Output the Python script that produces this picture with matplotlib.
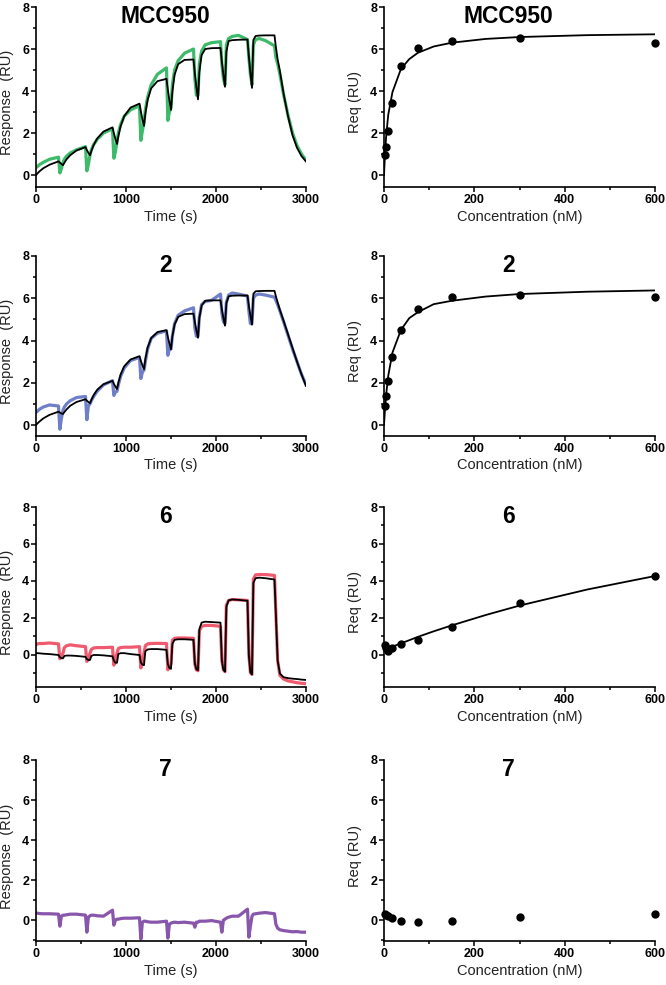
import matplotlib
matplotlib.use("Agg")
import matplotlib.pyplot as plt
from matplotlib.ticker import MultipleLocator

plt.rcParams['font.family'] = ['Liberation Sans', 'DejaVu Sans']

# ---- sensorgram data (time in s, response in RU) ----
t_sec = [0, 15, 40, 80, 150, 250, 265, 282,
         300, 315, 340, 380, 450, 550, 565, 582,
         600, 615, 640, 680, 750, 850, 865, 882,
         900, 915, 940, 980, 1050, 1150, 1165, 1182,
         1200, 1215, 1240, 1280, 1350, 1450, 1465, 1482,
         1500, 1515, 1540, 1580, 1650, 1750, 1765, 1782,
         1800, 1815, 1840, 1880, 1950, 2050, 2065, 2082,
         2100, 2115, 2140, 2180, 2250, 2350, 2365, 2382,
         2400, 2415, 2440, 2480, 2550, 2650,
         2665, 2685, 2710, 2750, 2800, 2850, 2900, 2950, 3000]

fit_mcc950 = [0.00, 0.07, 0.18, 0.32, 0.49, 0.65, 0.59, 0.53,
              0.47, 0.58, 0.75, 0.94, 1.17, 1.33, 1.19, 1.06,
              0.94, 1.14, 1.42, 1.74, 2.07, 2.27, 1.99, 1.73,
              1.48, 1.84, 2.32, 2.80, 3.21, 3.40, 3.03, 2.67,
              2.34, 2.92, 3.57, 4.13, 4.47, 4.58, 4.06, 3.56,
              3.10, 3.96, 4.78, 5.28, 5.48, 5.50, 4.84, 4.19,
              3.60, 4.90, 5.71, 6.00, 6.04, 6.05, 5.40, 4.77,
              4.20, 5.87, 6.38, 6.42, 6.44, 6.45, 5.65, 4.86,
              4.15, 6.43, 6.62, 6.64, 6.65, 6.65,
              6.10, 5.50, 4.95, 3.90, 2.80, 1.90, 1.30, 0.90, 0.65]
data_mcc950 = [0.35, 0.40, 0.50, 0.60, 0.75, 0.85, 0.10, 0.30,
               0.60, 0.75, 0.90, 1.05, 1.20, 1.35, 0.20, 0.50,
               0.95, 1.20, 1.45, 1.70, 2.00, 2.20, 0.80, 1.10,
               1.60, 2.00, 2.40, 2.80, 3.10, 3.30, 1.65, 2.10,
               2.50, 3.10, 3.70, 4.30, 4.80, 5.10, 2.60, 3.00,
               3.20, 4.30, 5.00, 5.45, 5.80, 6.00, 4.60, 3.80,
               3.80, 5.30, 5.90, 6.20, 6.30, 6.35, 5.30, 4.60,
               4.30, 6.20, 6.50, 6.60, 6.65, 6.45, 5.60, 4.80,
               4.30, 6.20, 6.45, 6.50, 6.40, 6.15,
               5.60, 5.30, 4.80, 3.85, 2.85, 2.00, 1.40, 1.00, 0.70]

fit_2 = [0.00, 0.07, 0.17, 0.31, 0.48, 0.63, 0.59, 0.55,
         0.52, 0.61, 0.74, 0.91, 1.09, 1.22, 1.15, 1.09,
         1.03, 1.19, 1.41, 1.67, 1.93, 2.09, 1.95, 1.82,
         1.70, 2.00, 2.39, 2.78, 3.10, 3.26, 3.04, 2.83,
         2.64, 3.12, 3.66, 4.12, 4.40, 4.49, 4.17, 3.86,
         3.58, 4.19, 4.76, 5.12, 5.25, 5.27, 4.87, 4.48,
         4.13, 5.07, 5.65, 5.88, 5.90, 5.90, 5.48, 5.07,
         4.70, 5.76, 6.09, 6.12, 6.13, 6.13, 5.65, 5.18,
         4.75, 6.21, 6.33, 6.34, 6.35, 6.35,
         6.10, 5.80, 5.45, 4.95, 4.30, 3.65, 3.00, 2.40, 1.85]
data_2 = [0.60, 0.65, 0.75, 0.85, 0.95, 0.90, -0.20, 0.30,
          0.70, 0.85, 1.00, 1.15, 1.30, 1.35, 0.25, 0.90,
          1.00, 1.15, 1.35, 1.60, 1.90, 2.10, 1.40, 1.55,
          1.60, 1.90, 2.30, 2.70, 3.05, 3.20, 2.20, 2.50,
          2.60, 3.00, 3.60, 4.10, 4.35, 4.45, 3.30, 3.60,
          3.60, 4.20, 4.80, 5.20, 5.40, 5.55, 4.60, 4.20,
          4.20, 5.10, 5.70, 5.85, 5.90, 6.20, 5.30, 4.90,
          4.80, 5.80, 6.15, 6.25, 6.20, 6.10, 5.40, 4.80,
          4.80, 6.00, 6.15, 6.20, 6.15, 6.05,
          5.90, 5.70, 5.40, 4.90, 4.25, 3.60, 3.00, 2.40, 1.90]

fit_6 = [0.10, 0.10, 0.09, 0.07, 0.05, 0.00, -0.12, -0.17,
         -0.18, -0.05, -0.03, -0.03, -0.05, -0.10, -0.22, -0.27,
         -0.27, -0.05, 0.00, 0.00, -0.02, -0.07, -0.30, -0.42,
         -0.42, 0.05, 0.10, 0.10, 0.05, 0.00, -0.40, -0.52,
         -0.55, 0.20, 0.30, 0.32, 0.32, 0.28, -0.50, -0.70,
         -0.75, 0.60, 0.82, 0.85, 0.85, 0.82, -0.45, -0.78,
         -0.82, 1.40, 1.75, 1.80, 1.78, 1.75, -0.30, -0.80,
         -0.90, 2.60, 2.95, 3.00, 2.98, 2.93, 0.00, -0.95,
         -1.05, 3.90, 4.15, 4.18, 4.15, 4.08,
         2.20, -0.30, -1.00, -1.20, -1.25, -1.28, -1.30, -1.33, -1.35]
data_6 = [0.55, 0.60, 0.62, 0.62, 0.65, 0.60, -0.20, -0.10,
          0.10, 0.40, 0.50, 0.55, 0.50, 0.45, -0.35, -0.20,
          0.10, 0.30, 0.38, 0.40, 0.40, 0.42, -0.55, -0.30,
          0.10, 0.35, 0.40, 0.42, 0.42, 0.45, -0.70, -0.40,
          0.10, 0.50, 0.60, 0.62, 0.63, 0.62, -0.80, -0.60,
          -0.50, 0.80, 0.90, 0.92, 0.92, 0.90, -0.50, -0.80,
          -0.85, 1.30, 1.55, 1.60, 1.60, 1.55, -0.30, -0.80,
          -0.90, 2.70, 2.95, 3.00, 2.98, 2.95, 0.00, -0.95,
          -1.05, 4.10, 4.33, 4.35, 4.35, 4.30,
          2.30, -0.30, -1.10, -1.30, -1.40, -1.45, -1.50, -1.53, -1.55]

data_7 = [0.35, 0.35, 0.33, 0.32, 0.32, 0.30, -0.30, 0.20,
          0.25, 0.25, 0.27, 0.30, 0.30, 0.25, -0.60, 0.15,
          0.22, 0.25, 0.25, 0.22, 0.20, 0.50, -0.25, 0.00,
          0.05, 0.05, 0.08, 0.10, 0.10, 0.12, -0.95, -0.10,
          -0.05, -0.05, -0.08, -0.10, -0.10, -0.05, -0.90, -0.20,
          -0.15, -0.12, -0.10, -0.12, -0.10, -0.15, -0.35, -0.10,
          -0.10, -0.05, -0.05, -0.05, -0.02, -0.10, -0.60, 0.00,
          0.05, 0.10, 0.15, 0.20, 0.20, 0.55, -0.85, -0.30,
          0.20, 0.30, 0.32, 0.35, 0.38, 0.32,
          -0.20, -0.40, -0.48, -0.52, -0.55, -0.58, -0.57, -0.60, -0.60]

# ---- steady-state responses vs concentration ----
conc_nM = [2.34, 4.69, 9.38, 18.75, 37.5, 75, 150, 300, 600]
req_mcc950 = [0.94, 1.33, 2.12, 3.45, 5.18, 6.07, 6.40, 6.54, 6.27]
req_2 = [0.90, 1.35, 2.10, 3.20, 4.50, 5.50, 6.05, 6.15, 6.05]
req_6 = [0.54, 0.36, 0.23, 0.36, 0.60, 0.81, 1.53, 2.83, 4.28]
req_7 = [0.30, 0.27, 0.22, 0.12, -0.05, -0.08, -0.05, 0.15, 0.33]

fit_conc = [0, 2.34, 4.69, 9.38, 18.75, 37.5, 56, 75, 110, 150, 225, 300, 450, 600]
fit_req_mcc950 = [0, 1.04, 1.82, 2.87, 3.95, 5.05, 5.52, 5.82, 6.12, 6.30, 6.48, 6.57, 6.66, 6.70]
fit_req_2 = [0, 0.79, 1.42, 2.33, 3.43, 4.50, 5.06, 5.34, 5.72, 5.88, 6.08, 6.20, 6.31, 6.37]
fit_req_6 = [0.27, 0.29, 0.31, 0.36, 0.45, 0.63, 0.80, 0.98, 1.28, 1.60, 2.16, 2.67, 3.54, 4.27]

titles = ["MCC950", "2", "6", "7"]
colors = ["#3dba6a", "#6f80c8", "#f05a6e", "#8856ab"]
sgram_data = [data_mcc950, data_2, data_6, data_7]
sgram_fit = [fit_mcc950, fit_2, fit_6, None]
req_data = [req_mcc950, req_2, req_6, req_7]
req_fit = [fit_req_mcc950, fit_req_2, fit_req_6, None]

W, H = 666, 985
# (top px, bottom px, y-min) of each row
rows = [(7, 187, -0.57), (256, 436, -0.52), (507, 687, -1.73), (760, 941, -1.04)]
cols = [(36, 306), (384, 655)]

fig = plt.figure(figsize=(W / 100, H / 100), dpi=100)


def style(ax, ymin, xmax, xmajor, xlabel, ylabel, title, title_x, ylab_x):
    ax.set_ylim(ymin, 8)
    ax.set_xlim(0, xmax)
    for s in ["top", "right"]:
        ax.spines[s].set_visible(False)
    for s in ["left", "bottom"]:
        ax.spines[s].set_linewidth(1.2)
    ax.yaxis.set_major_locator(MultipleLocator(2))
    ax.yaxis.set_minor_locator(MultipleLocator(1))
    ax.xaxis.set_major_locator(MultipleLocator(xmajor))
    ax.xaxis.set_minor_locator(MultipleLocator(xmajor / 2))
    ax.tick_params(which="major", length=3.5, width=1.1, labelsize=9, pad=1.5)
    ax.tick_params(which="minor", length=2.2, width=1.1)
    for lab in ax.get_xticklabels() + ax.get_yticklabels():
        lab.set_fontweight("bold")
    ax.set_xlabel(xlabel, fontsize=10.5, color="#222222")
    ax.set_ylabel(ylabel, fontsize=10.5, color="#222222")
    ax.xaxis.set_label_coords(0.5, -0.125)
    ax.yaxis.set_label_coords(ylab_x, 0.47)
    ax.text(title_x, 1.012, title, transform=ax.transAxes,
            ha="center", va="top", fontsize=16.5, fontweight="bold")


for i, (top, bot, ymin) in enumerate(rows):
    (l0, r0), (l1, r1) = cols
    axL = fig.add_axes([l0 / W, 1 - bot / H, (r0 - l0) / W, (bot - top) / H])
    axR = fig.add_axes([l1 / W, 1 - bot / H, (r1 - l1) / W, (bot - top) / H])

    axL.plot(t_sec, sgram_data[i], color=colors[i], lw=2.3, solid_joinstyle="round")
    if sgram_fit[i] is not None:
        axL.plot(t_sec, sgram_fit[i], color="black", lw=1.3)
    style(axL, ymin, 3000, 1000, "Time (s)", "Response  (RU)", titles[i], 0.48, -0.083)

    if req_fit[i] is not None:
        start = 1 if i == 2 else 0
        axR.plot(fit_conc[start:], req_fit[i][start:], color="black", lw=1.3)
    axR.plot(conc_nM, req_data[i], "o", color="black", ms=5, clip_on=False)
    style(axR, ymin, 600, 200, "Concentration (nM)", "Req (RU)", titles[i], 0.46, -0.08)

fig.savefig("out.png", dpi=100)
